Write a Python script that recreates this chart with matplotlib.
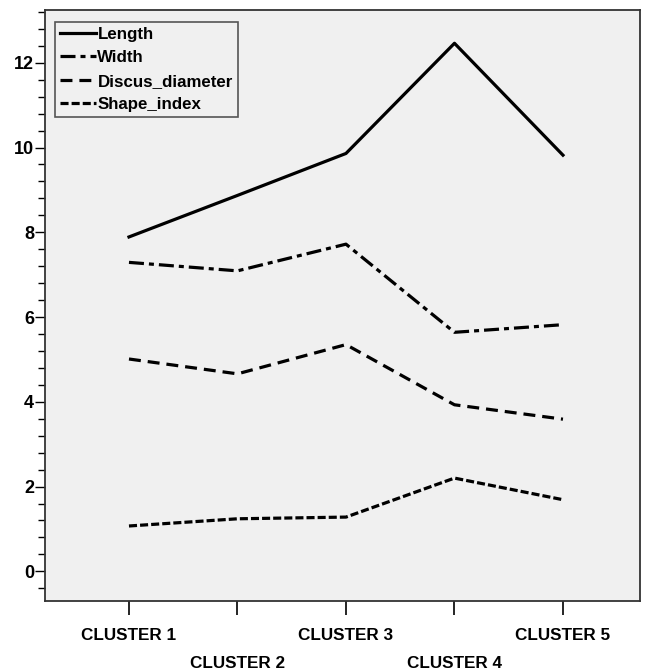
import numpy as np
import matplotlib
matplotlib.use("Agg")
from matplotlib import pyplot as plt
from matplotlib.ticker import MultipleLocator

plt.rcParams['font.family'] = ['Liberation Sans', 'DejaVu Sans']
plt.rcParams['lines.scale_dashes'] = False

# chart data
clusters = ['CLUSTER 1', 'CLUSTER 2', 'CLUSTER 3', 'CLUSTER 4', 'CLUSTER 5']
length = [7.89, 8.87, 9.86, 12.46, 9.82]
width = [7.29, 7.09, 7.72, 5.64, 5.82]
discus_diameter = [5.01, 4.66, 5.35, 3.93, 3.59]
shape_index = [1.07, 1.24, 1.28, 2.20, 1.69]

series_names = ['Length', 'Width', 'Discus_diameter', 'Shape_index']
series_values = [length, width, discus_diameter, shape_index]
# dash patterns in points
series_styles = ['-', (0, (10.8, 3.6, 3.6, 3.6)), (0, (8.6, 5.0)), (0, (5.8, 2.2))]

fig = plt.figure(figsize=(6.5, 6.72), dpi=100)
ax = fig.add_axes([45 / 650, 1 - 601 / 672, 595 / 650, 591 / 672])
ax.set_facecolor('#f0f0f0')

x = np.arange(1, len(clusters) + 1)
for name, vals, ls in zip(series_names, series_values, series_styles):
    ax.plot(x, vals, color='black', linestyle=ls, linewidth=2.3, label=name)

ax.set_xlim(0.226, 5.71)
ax.set_ylim(-0.70, 13.245)

ax.yaxis.set_major_locator(MultipleLocator(2))
ax.yaxis.set_minor_locator(MultipleLocator(0.4))
ax.tick_params(axis='y', which='major', length=7, width=1, labelsize=13, pad=1)
ax.tick_params(axis='y', which='minor', length=5, width=1)
for lab in ax.get_yticklabels():
    lab.set_fontweight('bold')

ax.set_xticks(x)
ax.set_xticklabels([])
ax.tick_params(axis='x', which='major', length=10, width=1.2)
for i, name in enumerate(clusters):
    yoff = -0.058 if i % 2 == 0 else -0.105
    ax.text(x[i], yoff, name, transform=ax.get_xaxis_transform(),
            ha='center', va='center', fontsize=12.3, fontweight='bold',
            family=['Liberation Sans Narrow', 'Liberation Sans', 'DejaVu Sans'])

for sp in ax.spines.values():
    sp.set_linewidth(1.3)
    sp.set_color('#333333')

leg = ax.legend(loc='upper left', bbox_to_anchor=(0.017, 0.98), frameon=True,
                fancybox=False, handlelength=2.1, handletextpad=0.1,
                borderpad=0.3, labelspacing=0.5, borderaxespad=0,
                prop={'weight': 'bold', 'size': 12.2})
leg.get_frame().set_edgecolor('#555555')
leg.get_frame().set_facecolor('#f0f0f0')
leg.get_frame().set_linewidth(1.2)
leg.get_frame().set_alpha(1)

fig.savefig('out.png', dpi=100)
